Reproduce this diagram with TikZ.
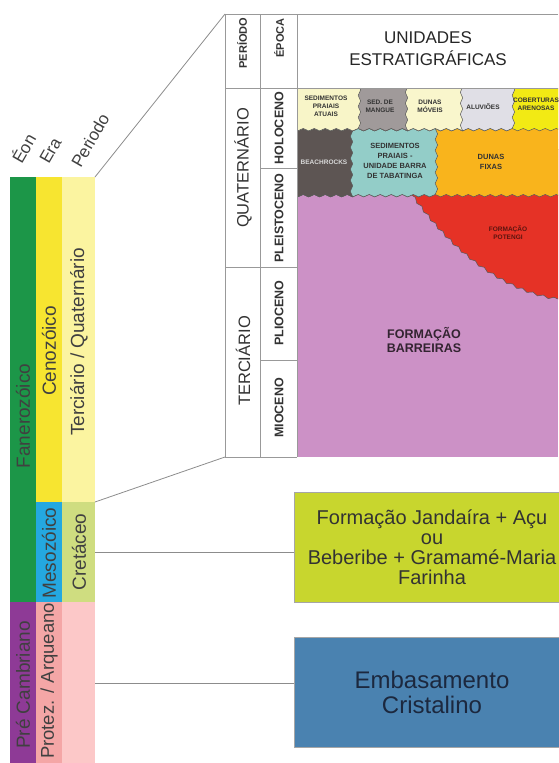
\documentclass[tikz,border=0pt]{standalone}
\usepackage{fontspec}
\setmainfont{Liberation Sans}
\usetikzlibrary{calc,positioning,decorations.pathmorphing}
\definecolor{fanero}{RGB}{28,150,72}
\definecolor{precamb}{RGB}{142,58,150}
\definecolor{ceno}{RGB}{247,229,48}
\definecolor{meso}{RGB}{36,168,224}
\definecolor{protez}{RGB}{244,166,166}
\definecolor{terqua}{RGB}{251,244,160}
\definecolor{creta}{RGB}{207,221,128}
\definecolor{pinkper}{RGB}{252,200,200}
\definecolor{atuais}{RGB}{248,245,200}
\definecolor{mangue}{RGB}{160,154,154}
\definecolor{moveis}{RGB}{249,246,204}
\definecolor{aluvioes}{RGB}{224,223,230}
\definecolor{coberturas}{RGB}{242,234,20}
\definecolor{beachrocks}{RGB}{93,85,83}
\definecolor{tabatinga}{RGB}{147,205,200}
\definecolor{fixas}{RGB}{249,180,28}
\definecolor{potengi}{RGB}{229,50,38}
\definecolor{barreiras}{RGB}{204,145,198}
\definecolor{jandaira}{RGB}{200,214,46}
\definecolor{embasamento}{RGB}{74,130,176}
\definecolor{navy}{RGB}{28,40,62}
\tikzset{
stratunit/.style={decorate,decoration={snake,amplitude=1.2pt,segment length=11pt},draw=black!65,line width=0.5pt},
vlabel/.style={rotate=90,text=black!75,font=\fontsize{19}{19}\selectfont},
hlabel/.style={rotate=60,anchor=base west,text=black!75,font=\fontsize{17}{17}\selectfont},
tlabel/.style={rotate=90,text=black!80,font=\fontsize{16.5}{16.5}\selectfont},
elabel/.style={rotate=90,text=black!80,font=\bfseries\fontsize{12.5}{12.5}\selectfont},
ulabel/.style={align=center,text=black!80,font=\bfseries\fontsize{6.5}{8}\selectfont},
tabline/.style={draw=black!40,line width=0.6pt},
link/.style={draw=black!45,line width=0.8pt},
unitbox/.style={minimum width=276pt,minimum height=110pt,align=center,draw=black!35,inner sep=0pt}
}

\begin{document}
\begin{tikzpicture}[x=1pt,y=-1pt]
	\useasboundingbox (0,0) rectangle (558,763);
	
	%time scale columns
	\fill[fanero] (10,177) rectangle (36,602);
	\fill[precamb] (10,602) rectangle (36,770);
	\fill[ceno] (36,177) rectangle (62,502);
	\fill[meso] (36,502) rectangle (62,602);
	\fill[protez] (36,602) rectangle (62,770);
	\fill[terqua] (62,177) rectangle (95,502);
	\fill[creta] (62,502) rectangle (95,602);
	\fill[pinkper] (62,602) rectangle (95,770);
	
	\node[vlabel] (fan) at (23,416) {Fanerozóico};
	\node[vlabel] (pre) at (23,685) {Pré Cambriano};
	\node[vlabel] (cen) at (49,351) {Cenozóico};
	\node[vlabel] (mes) at (49,553) {Mesozóico};
	\node[vlabel,font=\fontsize{18.5}{18.5}\selectfont] (pro) at (49,681) {Protez. / Arqueano};
	\node[vlabel] (tq) at (79,342) {Terciário / Quaternário};
	\node[vlabel] (cre) at (79,552) {Cretáceo};
	
	\node[hlabel] (eon) at (20,168) {Éon};
	\node[hlabel] (era) at (47,168) {Era};
	\node[hlabel] (per) at (79,172) {Periodo};
	
	%stratigraphic units
	\begin{scope}
		\clip (297,88) rectangle (558,457);
		\fill[barreiras] (297,88) rectangle (558,457);
		\filldraw[stratunit,fill=potengi] (410,150) -- (600,150) -- (600,297) -- (558,297) .. controls (505,288) and (455,250) .. (415,193) -- cycle;
		
		%pleistoceno
		\filldraw[stratunit,fill=fixas] (280,70) rectangle (600,192);
		\filldraw[stratunit,fill=tabatinga] (280,70) rectangle (433,192);
		\filldraw[stratunit,fill=beachrocks] (280,70) rectangle (353,192);
		
		%holoceno
		\filldraw[stratunit,fill=coberturas] (280,70) rectangle (600,128);
		\filldraw[stratunit,fill=aluvioes] (280,70) rectangle (510,128);
		\filldraw[stratunit,fill=moveis] (280,70) rectangle (457,128);
		\filldraw[stratunit,fill=mangue] (280,70) rectangle (402,128);
		\filldraw[stratunit,fill=atuais] (280,70) rectangle (357,128);
	\end{scope}
	
	\node[ulabel] (sat) at (326,106) {SEDIMENTOS\\PRAIAIS\\ATUAIS};
	\node[ulabel] (sma) at (380,106) {SED. DE\\MANGUE};
	\node[ulabel] (dmo) at (430,106) {DUNAS\\MÓVEIS};
	\node[ulabel] (alu) at (483,107) {ALUVIÕES};
	\node[ulabel] (cob) at (536,104) {COBERTURAS\\ARENOSAS};
	\node[ulabel,text=black!15] (bea) at (324,162) {BEACHROCKS};
	\node[ulabel,font=\bfseries\fontsize{7.5}{10}\selectfont] (tab) at (395,161) {SEDIMENTOS\\PRAIAIS -\\UNIDADE BARRA\\DE TABATINGA};
	\node[ulabel,font=\bfseries\fontsize{7.5}{10}\selectfont] (dfi) at (491,162) {DUNAS\\FIXAS};
	\node[ulabel,text=potengi!40!black] (pot) at (508,233) {FORMAÇÃO\\POTENGI};
	\node[ulabel,text=barreiras!25!black,font=\bfseries\fontsize{12.5}{14}\selectfont] (bar) at (424,340) {FORMAÇÃO\\BARREIRAS};
	
	%table frame
	\coordinate (tl) at (225,14);
	\coordinate (bl) at (225,457);
	\draw[tabline] (558,14) -- (tl) -- (bl) -- (297,457);
	\draw[tabline] (260,14) -- (260,457);
	\draw[tabline] (297,14) -- (297,457);
	\draw[tabline] (225,88) -- (558,88);
	\draw[tabline] (225,267) -- (297,267);
	\draw[tabline] (260,168) -- (297,168);
	\draw[tabline] (260,360) -- (297,360);
	
	\node[elabel,font=\bfseries\fontsize{11}{11}\selectfont] (hper) at (242,43) {PERÍODO};
	\node[elabel,font=\bfseries\fontsize{11}{11}\selectfont] (hepo) at (279,38) {ÉPOCA};
	\node[align=center,text=black!85,font=\fontsize{17}{22}\selectfont] (hun) at (428,49) {UNIDADES\\ESTRATIGRÁFICAS};
	\node[tlabel] (qua) at (243,168) {QUATERNÁRIO};
	\node[tlabel] (ter) at (243,361) {TERCIÁRIO};
	\node[elabel] (hol) at (279,128) {HOLOCENO};
	\node[elabel] (ple) at (279,218) {PLEISTOCENO};
	\node[elabel] (pli) at (279,313) {PLIOCENO};
	\node[elabel] (mio) at (279,408) {MIOCENO};
	
	%zoom lines
	\coordinate (ptop) at (95,177);
	\coordinate (pmid) at (95,502);
	\draw[link] (ptop) -- (tl);
	\draw[link] (pmid) -- (bl);
	
	%older units
	\node[unitbox,fill=jandaira,text=black!80,font=\fontsize{20}{20}\selectfont] (jan) at (432,547) {Formação Jandaíra + Açu\\ou\\Beberibe + Gramamé-Maria\\Farinha};
	\node[unitbox,fill=embasamento,text=navy,font=\fontsize{24}{25}\selectfont] (emb) at (432,692) {Embasamento\\Cristalino};
	
	\coordinate (cre-e) at (95,552);
	\coordinate (pro-e) at (95,683);
	\draw[link] (cre-e) -- (cre-e -| jan.west);
	\draw[link] (pro-e) -- (pro-e -| emb.west);
	
\end{tikzpicture}
\end{document}
